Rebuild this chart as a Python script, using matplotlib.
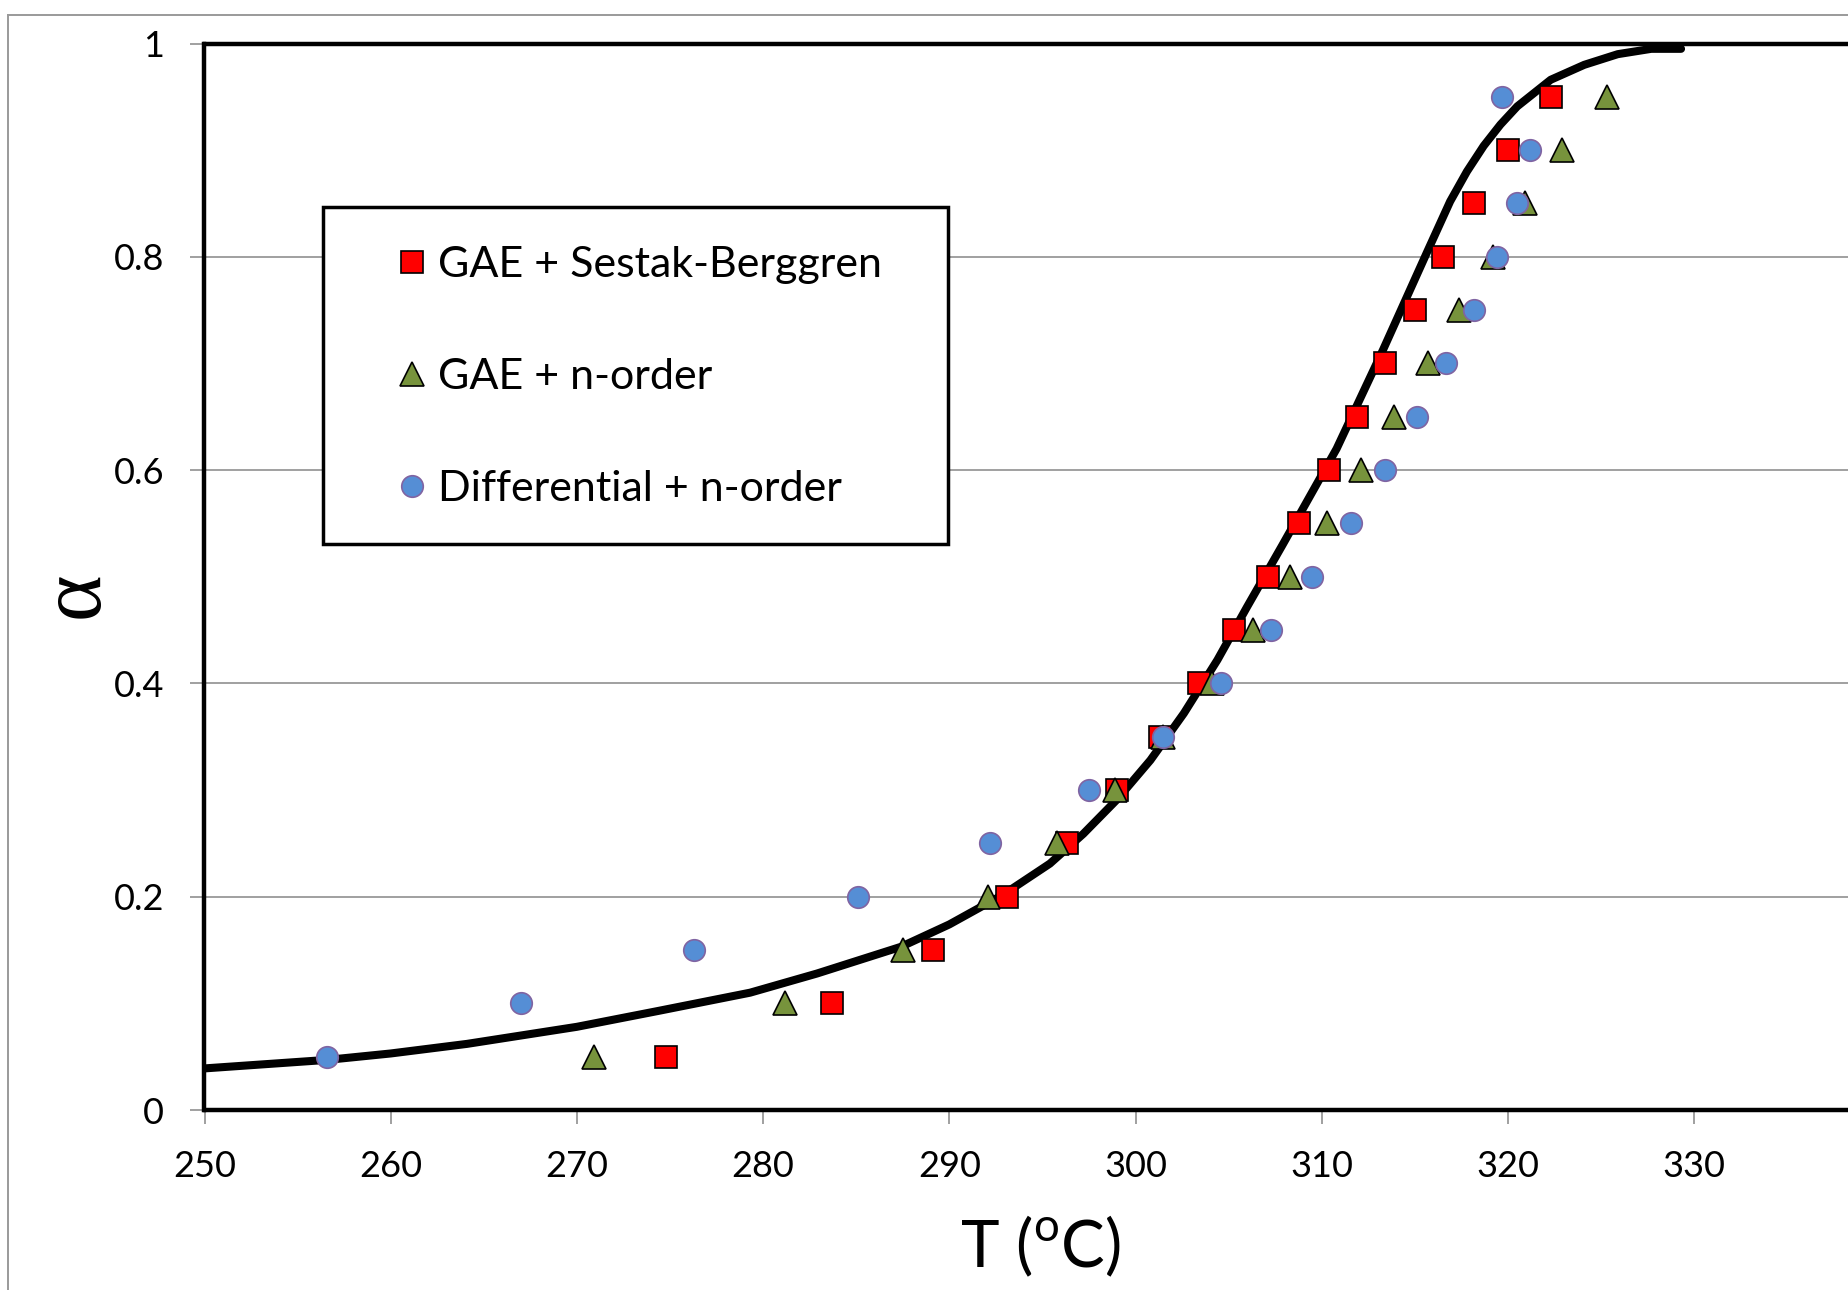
import matplotlib.pyplot as plt
from matplotlib.lines import Line2D
from matplotlib.patches import Rectangle

plt.rcParams['font.family'] = ['Lato', 'DejaVu Sans']

# conversion levels shared by the three point series
alpha_levels = [0.05, 0.10, 0.15, 0.20, 0.25, 0.30, 0.35, 0.40, 0.45, 0.50,
                0.55, 0.60, 0.65, 0.70, 0.75, 0.80, 0.85, 0.90, 0.95]

T_gae_sb = [274.8, 283.7, 289.1, 293.1, 296.3, 299.0, 301.3, 303.4, 305.3, 307.1,
            308.8, 310.4, 311.9, 313.4, 315.0, 316.5, 318.2, 320.0, 322.3]
T_gae_n = [270.9, 281.2, 287.5, 292.1, 295.8, 298.9, 301.5, 304.1, 306.3, 308.3,
           310.3, 312.1, 313.9, 315.7, 317.4, 319.2, 320.9, 322.9, 325.3]
T_diff_n = [256.6, 267.0, 276.3, 285.1, 292.2, 297.5, 301.5, 304.6, 307.3, 309.5,
            311.6, 313.4, 315.1, 316.7, 318.2, 319.4, 320.5, 321.2, 319.7]

# experimental curve
T_exp = [250.0, 256.6, 260.0, 264.1, 270.0, 274.4, 279.3, 282.9, 287.4, 290.0,
         292.9, 295.4, 297.2, 299.0, 300.8, 302.6, 304.4, 306.0, 307.9, 310.8,
         313.3, 315.7, 316.9, 317.8, 318.7, 319.6, 320.5, 322.3, 324.1, 325.9,
         327.7, 329.3]
a_exp = [0.039, 0.047, 0.053, 0.062, 0.078, 0.093, 0.110, 0.128, 0.153, 0.174,
         0.202, 0.231, 0.259, 0.291, 0.328, 0.372, 0.422, 0.472, 0.530, 0.620,
         0.713, 0.806, 0.852, 0.880, 0.904, 0.924, 0.941, 0.966, 0.980, 0.990,
         0.995, 0.995]

x_ticks = [250, 260, 270, 280, 290, 300, 310, 320, 330]
y_ticks = [0, 0.2, 0.4, 0.6, 0.8, 1]
y_labels = ['0', '0.2', '0.4', '0.6', '0.8', '1']

W, H = 1849, 1290
fig = plt.figure(figsize=(W / 100, H / 100), dpi=100)
ax = fig.add_axes([204.5 / W, (H - 1110) / H, 1675.8 / W, 1066.5 / H])

ax.plot(T_exp, a_exp, color='black', lw=5.8, solid_capstyle='round',
        solid_joinstyle='round', zorder=3)
h1, = ax.plot(T_gae_sb, alpha_levels, 's', ms=15.5, mfc='#FF0000', mec='black',
              mew=1.2, label='GAE + Sestak-Berggren', zorder=4)
h2, = ax.plot(T_gae_n, alpha_levels, '^', ms=17, mfc='#77933C', mec='black',
              mew=1.2, label='GAE + n-order', zorder=5)
h3, = ax.plot(T_diff_n, alpha_levels, 'o', ms=15.5, mfc='#558ED5', mec='#8064A2',
              mew=1.2, label='Differential + n-order', zorder=6)

ax.set_xlim(250, 340)
ax.set_ylim(0, 1)
ax.set_xticks(x_ticks)
ax.set_yticks(y_ticks)
ax.set_yticklabels(y_labels)
ax.yaxis.grid(True, color='#868686', lw=1.1)
ax.set_axisbelow(True)
for s in ax.spines.values():
    s.set_linewidth(3.2)
    s.set_color('black')
ax.tick_params(axis='both', direction='out', length=10, width=1.1, color='#868686',
               labelsize=26)
ax.tick_params(axis='y', pad=19)
ax.tick_params(axis='x', pad=19)

fig.text(1040 / W, (H - 1267) / H, 'T ($^{\\mathregular{o}}$C)', fontsize=47,
         ha='center', va='baseline')
fig.text(76 / W, 1 - 595 / H, '\u03b1', fontsize=64, family='Liberation Serif',
         rotation=90, ha='center', va='center')

# legend box
fig.add_artist(Rectangle((323 / W, 1 - 544 / H), 625 / W, 337 / H,
                         transform=fig.transFigure, fill=True, fc='white',
                         ec='black', lw=2.5, zorder=10))
leg = fig.legend(handles=[h1, h2, h3], loc='center left',
                 bbox_to_anchor=(399.5 / W, 1 - 377 / H), frameon=False,
                 fontsize=31, handlelength=0.6, handletextpad=0.3,
                 labelspacing=1.72, borderpad=0, borderaxespad=0, numpoints=1)
leg.set_zorder(11)

# outer chart border
fig.add_artist(Line2D([8 / W, 8 / W], [0, 1 - 15 / H], color='#9a9a9a', lw=1.4))
fig.add_artist(Line2D([8 / W, 1], [1 - 15 / H, 1 - 15 / H], color='#9a9a9a', lw=1.4))

fig.savefig('out.png', dpi=100)
